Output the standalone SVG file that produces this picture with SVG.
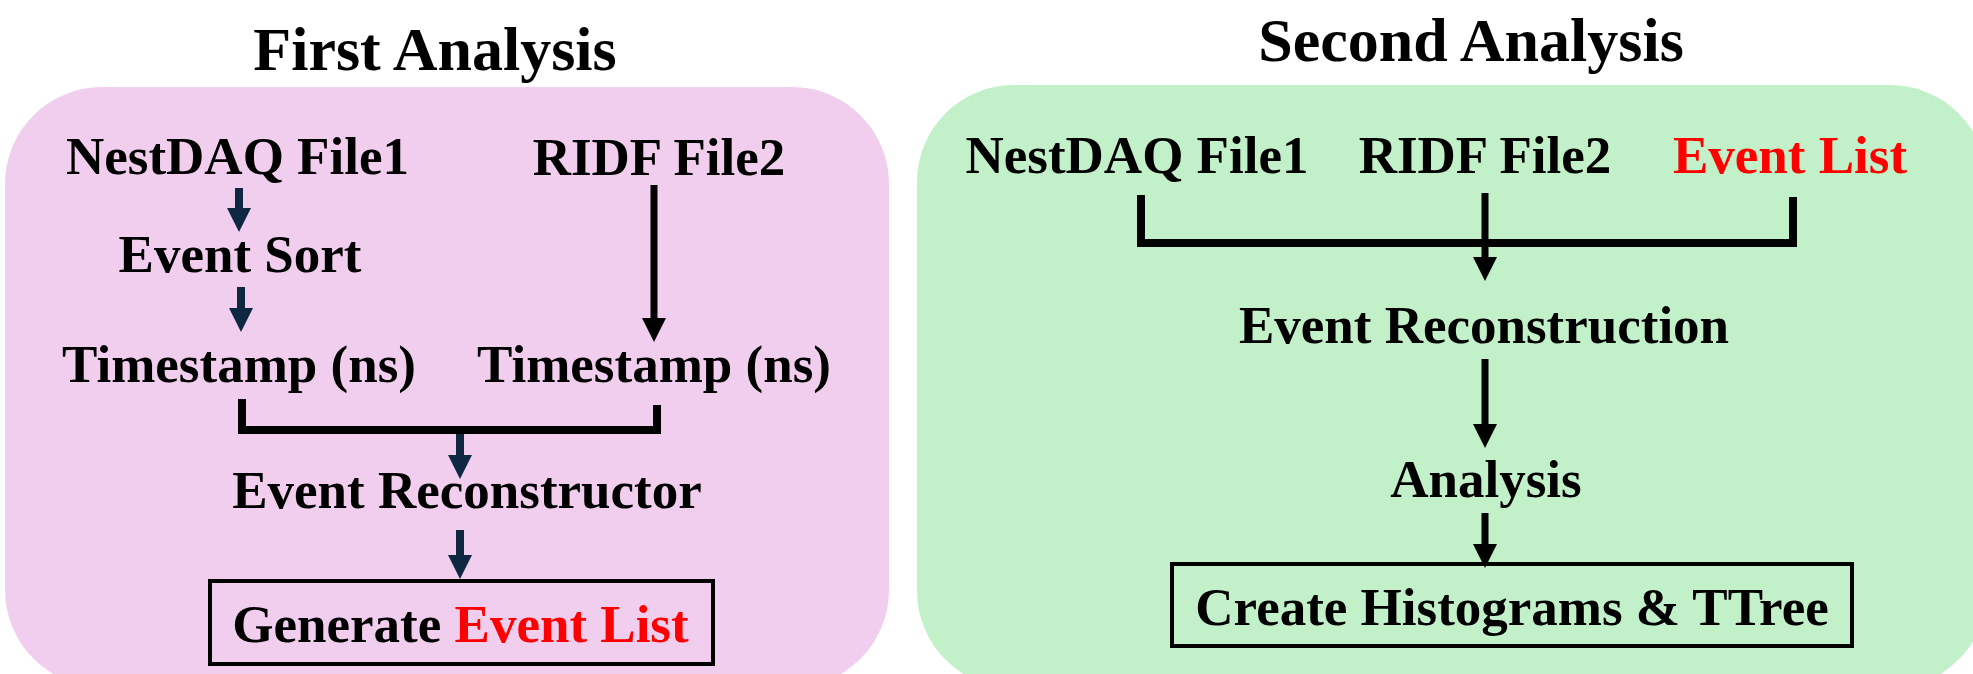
<svg xmlns="http://www.w3.org/2000/svg" width="1973" height="674" viewBox="0 0 1973 674">
  <style>
    text { font-family: "Liberation Serif", "Times New Roman", serif; font-weight: bold; fill: #000; text-anchor: middle; }
    .title { font-size: 62px; }
    .lbl { font-size: 53px; }
    .red { fill: #FF0000; }
    .navy { stroke: #0E2841; stroke-width: 8; fill: none; }
    .blk { stroke: #000; stroke-width: 7; fill: none; }
    .brk { stroke: #000; stroke-width: 8; fill: none; stroke-linejoin: miter; }
    .box { fill: none; stroke: #000; stroke-width: 4; }
  </style>
  <defs>
    <marker id="hn" viewBox="0 0 24 24" markerWidth="24" markerHeight="24" markerUnits="userSpaceOnUse" refX="2" refY="12" orient="auto">
      <path d="M0,0 L24,12 L0,24 Z" fill="#0E2841"/>
    </marker>
    <marker id="hb" viewBox="0 0 24 24" markerWidth="24" markerHeight="24" markerUnits="userSpaceOnUse" refX="2" refY="12" orient="auto">
      <path d="M0,0 L24,12 L0,24 Z" fill="#000"/>
    </marker>
  </defs>

  <g id="panel-first">
    <rect x="5" y="87" width="884" height="600" rx="97" ry="97" fill="#F1CEEE"/>
    <text class="title" x="435" y="70">First Analysis</text>
  </g>
  <g id="panel-second">
    <rect x="917" y="85" width="1070" height="603" rx="97" ry="97" fill="#C2F0C8"/>
    <text class="title" x="1471" y="61">Second Analysis</text>
  </g>

  <g id="connectors">
    <line class="navy" x1="239" y1="188" x2="239" y2="210" marker-end="url(#hn)"/>
    <line class="navy" x1="241" y1="287" x2="241" y2="310" marker-end="url(#hn)"/>
    <line class="blk" x1="654" y1="185" x2="654" y2="320" marker-end="url(#hb)"/>
    <path class="brk" d="M242,399 V430 H657 V405"/>
    <line class="navy" x1="460" y1="434" x2="460" y2="457" marker-end="url(#hn)"/>
    <line class="navy" x1="460" y1="530" x2="460" y2="557" marker-end="url(#hn)"/>

    <path class="brk" d="M1141,195 V243 H1793 V197"/>
    <line class="blk" x1="1485" y1="193" x2="1485" y2="259" marker-end="url(#hb)"/>
    <line class="blk" x1="1485" y1="359" x2="1485" y2="426" marker-end="url(#hb)"/>
    <line class="blk" x1="1485" y1="513" x2="1485" y2="546" marker-end="url(#hb)"/>
  </g>

  <g id="n-nestdaq1"><text class="lbl" x="237.5" y="174">NestDAQ File1</text></g>
  <g id="n-ridf1"><text class="lbl" x="659" y="175">RIDF File2</text></g>
  <g id="n-eventsort"><text class="lbl" x="240" y="272">Event Sort</text></g>
  <g id="n-ts1"><text class="lbl" x="239" y="382">Timestamp (ns)</text></g>
  <g id="n-ts2"><text class="lbl" x="654" y="382">Timestamp (ns)</text></g>
  <g id="n-reconstructor"><text class="lbl" x="467" y="508">Event Reconstructor</text></g>
  <g id="n-generate">
    <rect class="box" x="210" y="581" width="503" height="83"/>
    <text class="lbl" x="460.5" y="642">Generate <tspan class="red">Event List</tspan></text>
  </g>

  <g id="n-nestdaq2"><text class="lbl" x="1137" y="173">NestDAQ File1</text></g>
  <g id="n-ridf2"><text class="lbl" x="1485" y="173">RIDF File2</text></g>
  <g id="n-eventlist"><text class="lbl red" x="1790" y="173">Event List</text></g>
  <g id="n-reconstruction"><text class="lbl" x="1484" y="343">Event Reconstruction</text></g>
  <g id="n-analysis"><text class="lbl" x="1486" y="497">Analysis</text></g>
  <g id="n-histograms">
    <rect class="box" x="1172" y="564" width="680" height="82"/>
    <text class="lbl" x="1512" y="625">Create Histograms &amp; TTree</text>
  </g>
</svg>
